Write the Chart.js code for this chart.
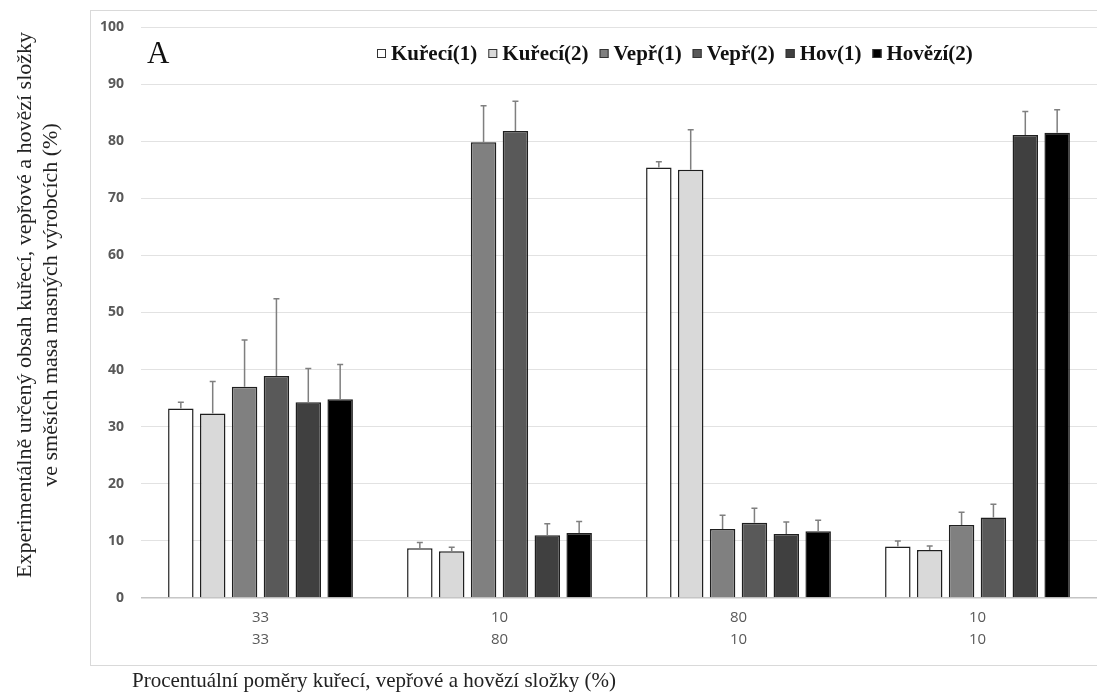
<!DOCTYPE html>
<html>
<head>
<meta charset="utf-8">
<script src="https://cdn.jsdelivr.net/npm/chart.js@4/dist/chart.umd.min.js"></script>
<style>
  html, body { margin: 0; padding: 0; background: #fff; }
  #wrap { width: 1097px; height: 693px; position: relative; }
</style>
</head>
<body>
<div id="wrap"><canvas id="chart"></canvas></div>
<script>
// --- data ---
const categories = [['33', '33'], ['10', '80'], ['80', '10'], ['10', '10']];
const seriesNames = ['Kuřecí(1)', 'Kuřecí(2)', 'Vepř(1)', 'Vepř(2)', 'Hov(1)', 'Hovězí(2)'];

const kureci1 = [33.2, 8.7, 75.4, 9.0];
const kureci2 = [32.3, 8.2, 75.0, 8.4];
const vepr1 = [37.0, 79.8, 12.1, 12.8];
const vepr2 = [38.9, 81.8, 13.2, 14.1];
const hov1 = [34.3, 11.0, 11.2, 81.1];
const hovezi2 = [34.8, 11.4, 11.7, 81.5];

// smerodatne odchylky (jen horni vousy)
const kureci1Err = [1.1, 1.0, 1.0, 1.0];
const kureci2Err = [5.6, 0.7, 7.0, 0.7];
const vepr1Err = [8.2, 6.4, 2.4, 2.2];
const vepr2Err = [13.5, 5.2, 2.5, 2.3];
const hov1Err = [5.9, 2.0, 2.1, 4.1];
const hovezi2Err = [6.1, 2.0, 1.9, 4.0];

const yTicks = [0, 10, 20, 30, 40, 50, 60, 70, 80, 90, 100];

const colors = ['#ffffff', '#d9d9d9', '#808080', '#595959', '#404040', '#000000'];
const seriesValues = [kureci1, kureci2, vepr1, vepr2, hov1, hovezi2];
const seriesErrors = [kureci1Err, kureci2Err, vepr1Err, vepr2Err, hov1Err, hovezi2Err];

const serif = '"Liberation Serif", "Times New Roman", serif';
const sans = '"Open Sans", "Liberation Sans", sans-serif';

// --- pluginy: ram, chybove usecky, legenda, popisky os ---
const framePlugin = {
    id: 'frame',
    beforeDraw(chart) {
        const c = chart.ctx;
        c.save();
        c.fillStyle = '#fff';
        c.fillRect(0, 0, chart.width, chart.height);
        c.strokeStyle = '#d9d9d9';
        c.lineWidth = 1;
        c.strokeRect(90.5, 10.5, chart.width + 20, 655);
        c.restore();
    }
};

const errorBarPlugin = {
    id: 'errorBars',
    afterDatasetsDraw(chart) {
        const c = chart.ctx;
        const y = chart.scales.y;
        c.save();
        c.strokeStyle = '#7f7f7f';
        c.lineWidth = 1.5;
        chart.data.datasets.forEach((ds, i) => {
            const meta = chart.getDatasetMeta(i);
            meta.data.forEach((bar, j) => {
                const top = y.getPixelForValue(ds.data[j] + ds.errors[j]);
                c.beginPath();
                c.moveTo(bar.x, bar.y);
                c.lineTo(bar.x, top);
                c.moveTo(bar.x - 3, top);
                c.lineTo(bar.x + 3, top);
                c.stroke();
            });
        });
        c.restore();
    }
};

const labelsPlugin = {
    id: 'labels',
    afterDraw(chart) {
        const c = chart.ctx;
        c.save();
        c.fillStyle = '#111';

        // pismeno A
        c.font = '31px ' + serif;
        c.textBaseline = 'alphabetic';
        c.textAlign = 'left';
        c.fillText('A', 147, 63);

        // legenda
        c.font = 'bold 21px ' + serif;
        let x = 377;
        chart.data.datasets.forEach((ds) => {
            c.fillStyle = ds.backgroundColor;
            c.fillRect(x, 49, 9, 9);
            c.strokeStyle = '#333';
            c.lineWidth = 1;
            c.strokeRect(x + 0.5, 49.5, 8, 8);
            c.fillStyle = '#111';
            c.fillText(ds.label, x + 14, 60);
            x += 14 + c.measureText(ds.label).width + 11;
        });

        // nazev osy x
        c.font = '21px ' + serif;
        c.fillStyle = '#222';
        c.textBaseline = 'middle';
        c.fillText('Procentuální poměry kuřecí, vepřové a hovězí složky (%)', 132, 681);

        // nazev osy y (dva radky)
        c.translate(0, 305);
        c.rotate(-Math.PI / 2);
        c.textAlign = 'center';
        c.font = '22px ' + serif;
        c.fillText('Experimentálně určený obsah kuřecí, vepřové a hovězí složky', 0, 25);
        c.fillText('ve směsích masa masných výrobcích (%)', 0, 51);
        c.restore();
    }
};

// --- graf ---
const datasets = seriesNames.map((name, i) => ({
    label: name,
    data: seriesValues[i],
    errors: seriesErrors[i],
    backgroundColor: colors[i],
    borderColor: '#1f1f1f',
    borderWidth: 1.5,
    barPercentage: 0.8,
    categoryPercentage: 0.8
}));

const ctx = document.getElementById('chart').getContext('2d');
new Chart(ctx, {
    type: 'bar',
    data: { labels: categories, datasets: datasets },
    options: {
        responsive: true,
        maintainAspectRatio: false,
        animation: false,
        layout: { padding: { top: 27, right: 0, bottom: 0, left: 0 } },
        plugins: {
            legend: { display: false },
            tooltip: { enabled: false }
        },
        scales: {
            x: {
                grid: { display: false, drawTicks: false },
                border: { display: false },
                ticks: {
                    color: '#595959',
                    font: { family: sans, size: 15, lineHeight: 1.5 },
                    padding: 8,
                    maxRotation: 0
                },
                afterFit(scale) { scale.height = 95; }
            },
            y: {
                min: 0,
                max: 100,
                afterBuildTicks(scale) { scale.ticks = yTicks.map(v => ({ value: v })); },
                grid: {
                    drawTicks: false,
                    color: (c) => c.tick && c.tick.value === 0 ? '#c4c4c4' : '#e2e2e2',
                    lineWidth: (c) => c.tick && c.tick.value === 0 ? 1.5 : 1
                },
                border: { display: false },
                ticks: {
                    color: '#595959',
                    font: { family: sans, size: 14, weight: 'bold' },
                    padding: 17
                },
                afterFit(scale) { scale.width = 141; }
            }
        }
    },
    plugins: [framePlugin, errorBarPlugin, labelsPlugin]
});
</script>
</body>
</html>
